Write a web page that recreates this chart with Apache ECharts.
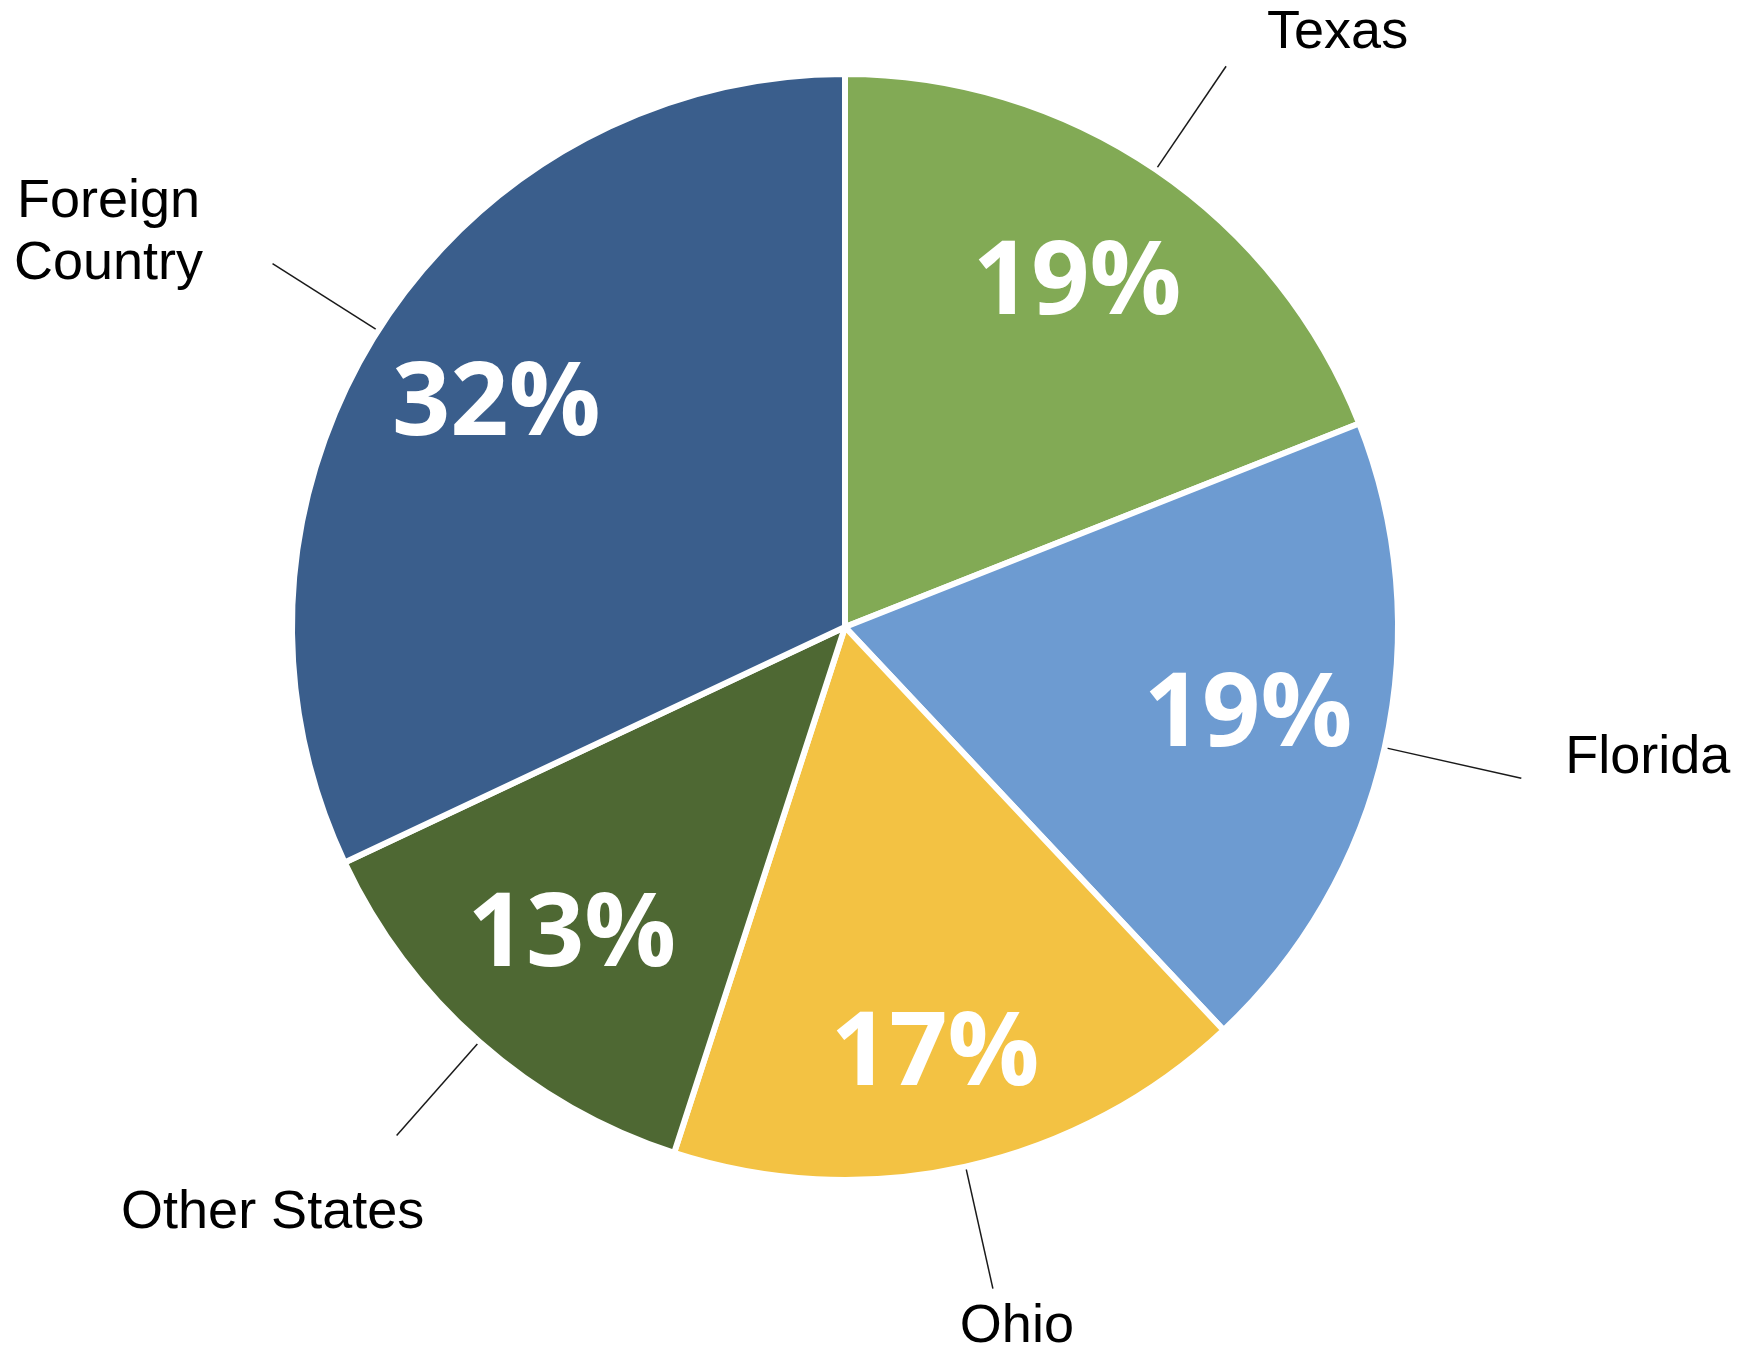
<!DOCTYPE html>
<html>
<head>
<meta charset="utf-8">
<title>Share by origin</title>
<script src="https://cdn.jsdelivr.net/npm/echarts@6/dist/echarts.min.js"></script>
<style>
  html, body { margin: 0; padding: 0; background: #fff; }
  #chart { width: 1742px; height: 1348px; }
</style>
</head>
<body>
<div id="chart"></div>
<script>
// 分类 / 数值 (百分比)
const categories = ['Texas', 'Florida', 'Ohio', 'Other States', 'Foreign Country'];
const shares = [19, 19, 17, 13, 32];
// 扇区颜色
const sliceColors = ['#82aa55', '#6d9bd1', '#f3c243', '#4e6833', '#3a5e8c'];

// 外部标签相对引导线端点的位置
const labelPlacement = {
  'Texas': {dx: 41, dy: -33, align: 'left', length: 125},
  'Florida': {dx: 44, dy: -20, align: 'left', length: 140},
  'Ohio': {dx: 24, dy: 38, align: 'center', length: 125},
  'Other States': {dx: -124, dy: 78, align: 'center', length: 125},
  'Foreign Country': {dx: -164, dy: -31, align: 'center', length: 125}
};
// 百分比标签的微调 (Ohio 稍靠外)
const pctShift = {'Ohio': 26};

const center = [845, 627];
const radius = 553;

const chart = echarts.init(document.getElementById('chart'));

const option = {
  backgroundColor: '#fff',
  animation: false,
  series: [
    // 1. 饼图本体 + 外部名称
    {
      type: 'pie',
      center: center,
      radius: [0, radius],
      startAngle: 90,
      clockwise: true,
      avoidLabelOverlap: false,
      silent: true,
      data: categories.map((name, i) => ({
        name: name,
        value: shares[i],
        itemStyle: {color: sliceColors[i]},
        labelLine: {length: labelPlacement[name].length}
      })),
      itemStyle: {borderColor: '#fff', borderWidth: 6, borderJoin: 'round'},
      label: {
        show: true,
        position: 'outside',
        color: '#000',
        fontFamily: 'Liberation Sans, Arial, sans-serif',
        fontSize: 54,
        lineHeight: 62,
        formatter: (p) => p.name === 'Foreign Country' ? 'Foreign\nCountry' : p.name
      },
      labelLine: {
        show: true,
        length: 125,
        length2: 0,
        smooth: false,
        lineStyle: {color: '#1a1a1a', width: 1.5}
      },
      labelLayout: (params) => {
        const pts = params.labelLinePoints;
        if (!pts) return {};
        const p = labelPlacement[categories[params.dataIndex]];
        const end = pts[pts.length - 1];
        return {
          x: end[0] + p.dx,
          y: end[1] + p.dy,
          align: p.align,
          verticalAlign: 'middle',
          labelLinePoints: pts
        };
      }
    },
    // 2. 透明环 — 只用来放百分比
    {
      type: 'pie',
      center: center,
      radius: [270, 550],
      startAngle: 90,
      clockwise: true,
      silent: true,
      data: categories.map((name, i) => ({name: name, value: shares[i]})),
      itemStyle: {color: 'rgba(0,0,0,0)', borderWidth: 0},
      label: {
        show: true,
        position: 'inside',
        color: '#fff',
        fontFamily: 'Open Sans, Noto Sans, sans-serif',
        fontWeight: 'bold',
        fontSize: 102,
        formatter: '{c}%'
      },
      labelLine: {show: false},
      labelLayout: (params) => {
        const shift = pctShift[categories[params.dataIndex]];
        return shift ? {dy: shift} : {};
      }
    }
  ]
};

chart.setOption(option);
</script>
</body>
</html>
